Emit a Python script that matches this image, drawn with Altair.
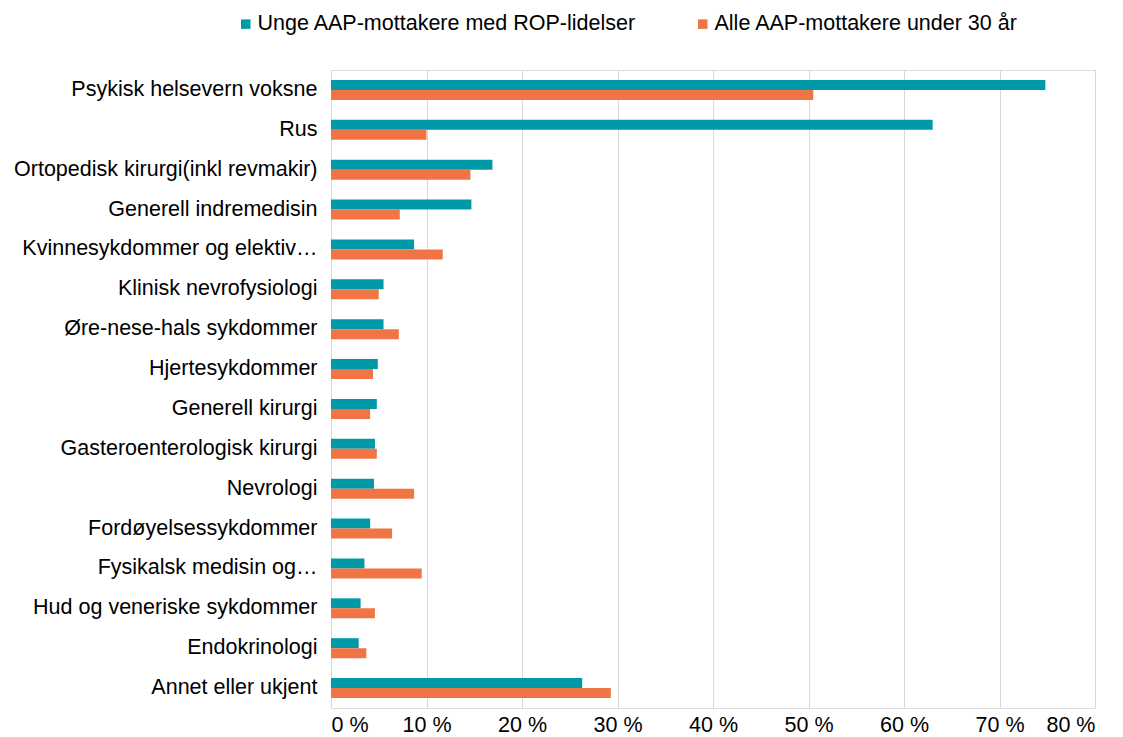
import altair as alt
import pandas as pd

categories = [
    "Psykisk helsevern voksne",
    "Rus",
    "Ortopedisk kirurgi(inkl revmakir)",
    "Generell indremedisin",
    "Kvinnesykdommer og elektiv…",
    "Klinisk nevrofysiologi",
    "Øre-nese-hals sykdommer",
    "Hjertesykdommer",
    "Generell kirurgi",
    "Gasteroenterologisk kirurgi",
    "Nevrologi",
    "Fordøyelsessykdommer",
    "Fysikalsk medisin og…",
    "Hud og veneriske sykdommer",
    "Endokrinologi",
    "Annet eller ukjent",
]
series_names = ["Unge AAP-mottakere med ROP-lidelser", "Alle AAP-mottakere under 30 år"]
rop_values = [74.8, 63.0, 16.9, 14.7, 8.7, 5.5, 5.5, 4.9, 4.8, 4.6, 4.5, 4.1, 3.5, 3.1, 2.9, 26.3]
all_values = [50.5, 10.0, 14.6, 7.2, 11.7, 5.0, 7.1, 4.4, 4.1, 4.8, 8.7, 6.4, 9.5, 4.6, 3.7, 29.3]
colors = ["#0099A8", "#F07444"]

rows = []
for c, a, b in zip(categories, rop_values, all_values):
    rows.append({"kategori": c, "serie": series_names[0], "verdi": a})
    rows.append({"kategori": c, "serie": series_names[1], "verdi": b})
df = pd.DataFrame(rows)

font = "Liberation Sans"
fs = 21.5

chart = alt.Chart(df).mark_bar(size=10).encode(
    y=alt.Y("kategori:N", sort=categories, title=None,
            scale=alt.Scale(paddingInner=0.5, paddingOuter=0.25),
            axis=alt.Axis(ticks=False, domain=False, labelFontSize=fs, labelFont=font,
                          labelColor="#000000", labelPadding=14, labelLimit=400)),
    yOffset=alt.YOffset("serie:N", sort=series_names),
    x=alt.X("verdi:Q", title=None,
            scale=alt.Scale(domain=[0, 80]),
            axis=alt.Axis(values=[0, 10, 20, 30, 40, 50, 60, 70, 80],
                          labelExpr="datum.value + ' %'", ticks=False, domain=False,
                          labelFontSize=fs, labelFont=font, labelColor="#000000",
                          labelPadding=6, gridColor="#D9D9D9", gridWidth=1)),
    color=alt.Color("serie:N", sort=series_names,
                    scale=alt.Scale(domain=series_names, range=colors),
                    legend=alt.Legend(title=None, orient="none", direction="horizontal",
                                      legendX=-96, legendY=-57,
                                      symbolType="square", symbolSize=90,
                                      symbolStrokeWidth=0,
                                      labelFontSize=fs, labelFont=font, labelColor="#000000",
                                      columnPadding=55, symbolOffset=0, labelOffset=1,
                                      labelLimit=500)),
).properties(
    width=764, height=638,
).configure_view(stroke=None).configure(background="#FFFFFF")

chart.save("out.html", embed_options={"renderer": "svg", "actions": False})
